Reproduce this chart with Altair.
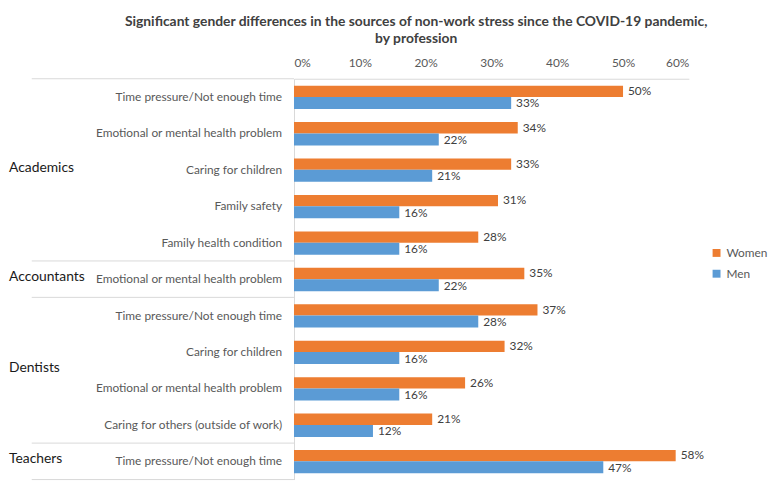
import altair as alt
import pandas as pd

# ---- data ----
row_profession = ['Academics'] * 5 + ['Accountants'] + ['Dentists'] * 4 + ['Teachers']
row_source = [
    'Time pressure/Not enough time',
    'Emotional or mental health problem',
    'Caring for children',
    'Family safety',
    'Family health condition',
    'Emotional or mental health problem',
    'Time pressure/Not enough time',
    'Caring for children',
    'Emotional or mental health problem',
    'Caring for others (outside of work)',
    'Time pressure/Not enough time',
]
women = [0.50, 0.34, 0.33, 0.31, 0.28, 0.35, 0.37, 0.32, 0.26, 0.21, 0.58]
men = [0.33, 0.22, 0.21, 0.16, 0.16, 0.22, 0.28, 0.16, 0.16, 0.12, 0.47]
genders = ['Women', 'Men']
gender_colors = ['#ED7D31', '#5B9BD5']

FONT = 'Lato'
GREY = '#595959'
LINE = '#d9d9d9'

rows = pd.DataFrame({'row': range(len(row_source)),
                     'profession': row_profession,
                     'source': row_source})
bars = pd.concat([rows.assign(gender='Women', value=women),
                  rows.assign(gender='Men', value=men)], ignore_index=True)

groups = rows.groupby('profession', sort=False)['row'].agg(['min', 'max', 'mean']).reset_index()
edges = pd.DataFrame({'edge': [-0.5] + list(groups['max'] + 0.5)})

y_scale = alt.Scale(domain=[-0.5, len(row_source) - 0.5], reverse=True, nice=False, zero=False)
x_scale = alt.Scale(domain=[0, 0.6], nice=False)

# ── bars ──
bar = alt.Chart(bars).transform_calculate(
    y0="datum.row + (datum.gender == 'Women' ? -0.31 : 0)",
    y1="datum.row + (datum.gender == 'Women' ? 0 : 0.33)"
).mark_bar().encode(
    x=alt.X('value:Q', scale=x_scale, title=None,
            axis=alt.Axis(orient='top', format='.0%', values=[0, 0.1, 0.2, 0.3, 0.4, 0.5, 0.6],
                          ticks=False, grid=False, domainColor=LINE, labelColor=GREY,
                          labelFontSize=12, labelPadding=9, labelFont=FONT)),
    x2=alt.value(0),
    y=alt.Y('y0:Q', scale=y_scale, title=None,
            axis=alt.Axis(labels=False, ticks=False, grid=False, domainColor=LINE)),
    y2='y1:Q',
    color=alt.Color('gender:N', title=None,
                    scale=alt.Scale(domain=genders, range=gender_colors),
                    legend=alt.Legend(orient='none', legendX=421, legendY=170,
                                      symbolType='square', symbolSize=64,
                                      labelFontSize=12, labelColor=GREY, labelFont=FONT,
                                      labelOffset=4, rowPadding=9)),
)

# ── value labels ──
values = alt.Chart(bars).transform_calculate(
    ylab="datum.row + (datum.gender == 'Women' ? -0.16 : 0.18)"
).mark_text(align='left', baseline='middle', dx=5, fontSize=12, color='#404040', font=FONT).encode(
    x=alt.X('value:Q', scale=x_scale),
    y=alt.Y('ylab:Q', scale=y_scale),
    text=alt.Text('value:Q', format='.0%'),
)

# ── source labels ──
sources = alt.Chart(rows).mark_text(align='right', baseline='middle', dx=-12,
                                    fontSize=12, color=GREY, font=FONT).encode(
    x=alt.value(0),
    y=alt.Y('row:Q', scale=y_scale),
    text='source:N',
)

# ── profession labels ──
prof = alt.Chart(groups).mark_text(align='left', baseline='middle', fontSize=14, dy=-2,
                                   color='#1a1a1a', font=FONT).encode(
    x=alt.value(-288),
    y=alt.Y('mean:Q', scale=y_scale),
    text='profession:N',
)

# ── separator lines in the category area ──
seps = alt.Chart(edges).mark_rule(color=LINE, strokeWidth=1).encode(
    x=alt.value(-265),
    x2=alt.value(0),
    y=alt.Y('edge:Q', scale=y_scale),
)

chart = alt.layer(seps, bar, values, sources, prof).properties(
    width=399,
    height=405,
    autosize=alt.AutoSizeParams(type='none'),
    padding={'left': 289, 'top': 69, 'right': 81, 'bottom': 3},
    title=alt.Title(
        ['Significant gender differences in the sources of non-work stress since the COVID-19 pandemic,',
         'by profession'],
        anchor='middle', dx=-76, fontSize=14, fontWeight='bold', color='#404040',
        font=FONT, lineHeight=17, offset=11
    ),
).configure_view(stroke=None)

chart.save("out.html", embed_options={"renderer": "svg", "actions": False})
